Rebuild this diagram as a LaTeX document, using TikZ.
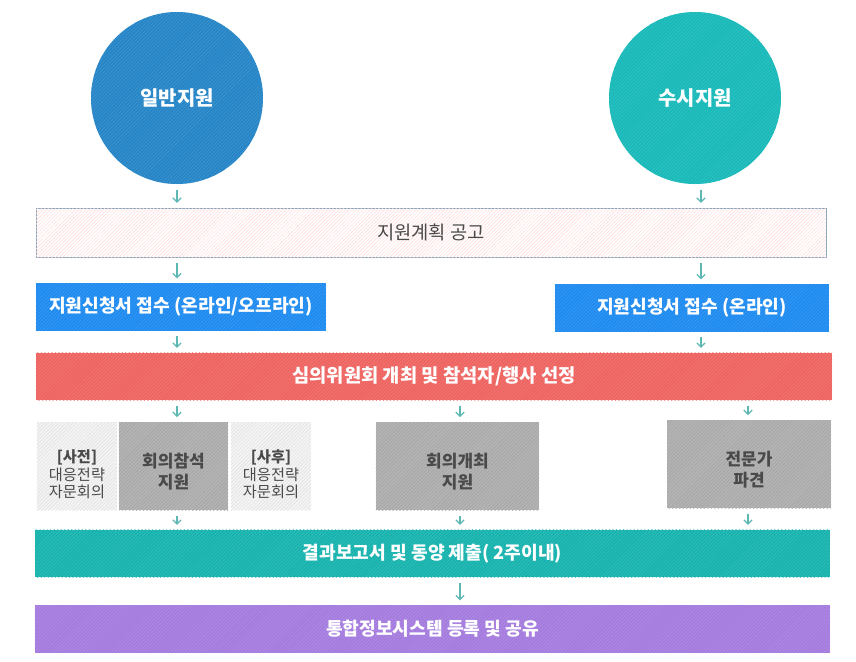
\documentclass[tikz,border=0pt]{standalone}
\usepackage{fontspec}
\setmainfont{Noto Sans CJK KR}
\usetikzlibrary{calc}
\usetikzlibrary{arrows.meta}
\usetikzlibrary{patterns}

\definecolor{genblue}{HTML}{2585C7}
\definecolor{susteal}{HTML}{18B9B9}
\definecolor{appblue}{HTML}{1E8BF0}
\definecolor{revred}{HTML}{EE6461}
\definecolor{repteal}{HTML}{17B3AE}
\definecolor{sharepurple}{HTML}{A47BDE}
\definecolor{boxgray}{HTML}{B4B4B4}
\definecolor{lightgray}{HTML}{F4F4F4}
\definecolor{arrteal}{HTML}{5DB8B4}
\definecolor{txtgray}{HTML}{4A4A4A}

\begin{document}
\begin{tikzpicture}[x=0.03cm, y=-0.03cm,
  hatch/.style={postaction={pattern=north east lines, pattern color=#1}},
  bar/.style={inner sep=0pt, minimum height=1.42cm, text=white,
    font=\fontsize{15.5}{17}\selectfont\bfseries},
  circ/.style={circle, minimum size=5.16cm, inner sep=0pt, text=white,
    font=\fontsize{17}{19}\selectfont\bfseries},
  cell/.style={inner sep=0pt, minimum height=2.64cm, align=center,
    text=txtgray, font=\fontsize{13}{15}\selectfont},
  arr/.style={-{Straight Barb[length=3.5pt, width=7pt]}, arrteal,
    line width=1.1pt, shorten <=4.5pt, shorten >=4pt}]
  \useasboundingbox (0,0) rectangle (856,661);

  % Due tipi di supporto
  \node[circ, fill=genblue, hatch=genblue!85!white] (gen) at (177,98) {일반지원};
  \node[circ, fill=susteal, hatch=susteal!85!white] (sus) at (695,98) {수시지원};

  % Annuncio del piano
  \node[draw=genblue!45!gray!70, line width=0.8pt, fill=white, hatch=red!15,
    minimum width=23.7cm, minimum height=1.47cm, text=txtgray,
    font=\fontsize{16}{18}\selectfont] (plan) at (431,232.5) {지원계획 공고};

  % Ricezione delle domande
  \node[bar, fill=appblue, hatch=appblue!85!white, minimum width=8.7cm]
    (appL) at (181,307) {지원신청서 접수 (온라인/오프라인)};
  \node[bar, fill=appblue, hatch=appblue!85!white, minimum width=8.22cm]
    (appR) at (692,308) {지원신청서 접수 (온라인)};

  % Comitato di valutazione
  \node[bar, fill=revred, hatch=revred!85!white, minimum width=23.88cm,
    font=\fontsize{16}{18}\selectfont\bfseries]
    (review) at (434,376.5) {심의위원회 개최 및 참석자/행사 선정};

  % Tipi di supporto
  \node[cell, fill=lightgray, hatch=gray!25, minimum width=2.4cm] (pre) at (77,466)
    {\rule{0pt}{25pt}{\bfseries [사전]}\\대응전략\\자문회의};
  \node[cell, fill=boxgray, hatch=boxgray!90!black, minimum width=3.27cm,
    font=\fontsize{14.5}{18}\selectfont\bfseries] (attend) at (173.5,466)
    {\rule{0pt}{22pt}회의참석\\지원};
  \node[cell, fill=lightgray, hatch=gray!25, minimum width=2.4cm] (post) at (271,466)
    {\rule{0pt}{25pt}{\bfseries [사후]}\\대응전략\\자문회의};
  \node[cell, fill=boxgray, hatch=boxgray!90!black, minimum width=4.89cm,
    font=\fontsize{14.5}{18}\selectfont\bfseries] (host) at (457.5,466)
    {\rule{0pt}{22pt}회의개최\\지원};
  \node[cell, fill=boxgray, hatch=boxgray!90!black, minimum width=4.92cm,
    font=\fontsize{14.5}{18}\selectfont\bfseries] (expert) at (749,464)
    {\rule{0pt}{22pt}전문가\\파견};

  % Rapporto e condivisione
  \node[bar, fill=repteal, hatch=repteal!85!white, minimum width=23.85cm]
    (report) at (432.5,553.5) {결과보고서 및 동양 제출( 2주이내)};
  \node[bar, fill=sharepurple, hatch=sharepurple!85!white, minimum width=23.85cm]
    (share) at (432.5,629) {통합정보시스템 등록 및 공유};

  % Colonne delle frecce
  \coordinate (lcol) at (177,0);
  \coordinate (mcol) at (460,0);
  \coordinate (rcol) at (701,0);
  \coordinate (ecol) at (748,0);

  % Frecce
  \draw[arr] (lcol |- gen.south) -- (lcol |- plan.north);
  \draw[arr] (rcol |- sus.south) -- (rcol |- plan.north);
  \draw[arr] (lcol |- plan.south) -- (lcol |- appL.north);
  \draw[arr] (rcol |- plan.south) -- (rcol |- appR.north);
  \draw[arr] (lcol |- appL.south) -- (lcol |- review.north);
  \draw[arr] (rcol |- appR.south) -- (rcol |- review.north);
  \draw[arr] (lcol |- review.south) -- (lcol |- attend.north);
  \draw[arr] (mcol |- review.south) -- (mcol |- host.north);
  \draw[arr] (ecol |- review.south) -- (ecol |- expert.north);
  \draw[arr] (lcol |- attend.south) -- (lcol |- report.north);
  \draw[arr] (mcol |- host.south) -- (mcol |- report.north);
  \draw[arr] (ecol |- expert.south) -- (ecol |- report.north);
  \draw[arr] (mcol |- report.south) -- (mcol |- share.north);
\end{tikzpicture}
\end{document}
